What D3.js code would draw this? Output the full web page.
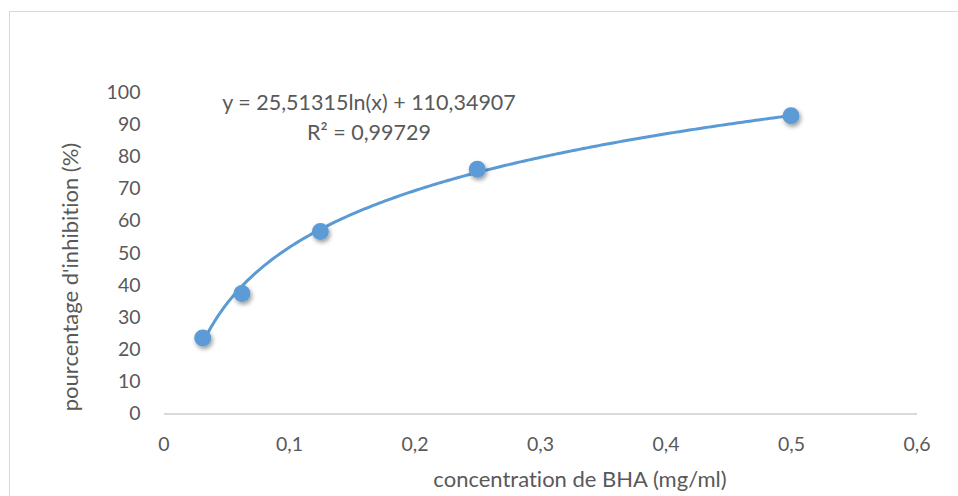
<!DOCTYPE html>
<html>
<head>
<meta charset="utf-8">
<script src="https://cdn.jsdelivr.net/npm/d3@7"></script>
<style>
  html, body { margin: 0; padding: 0; background: #fff; }
  svg { display: block; font-family: Lato, "Open Sans", sans-serif; font-variant-ligatures: none; }
</style>
</head>
<body>
<svg id="chart" width="958" height="496"></svg>
<script>
// ---- data ----
const concentrations = [0.03125, 0.0625, 0.125, 0.25, 0.5];
const inhibition = [23.5, 37.3, 56.6, 76.0, 92.6];
const xTicks = [0, 0.1, 0.2, 0.3, 0.4, 0.5, 0.6];
const yTicks = [0, 10, 20, 30, 40, 50, 60, 70, 80, 90, 100];
const trendCoefA = [25.51315];
const trendCoefB = [110.34907];
const equationLines = ["y = 25,51315ln(x) + 110,34907", "R² = 0,99729"];
const xTitle = "concentration de BHA (mg/ml)";
const yTitle = "pourcentage d'inhibition (%)";

// ---- layout ----
const svg = d3.select("#chart");
const color = "#5B9BD5";
const textColor = "#595959";
const x = d3.scaleLinear().domain([0, 0.6]).range([163.5, 916.5]);
const y = d3.scaleLinear().domain([0, 100]).range([413.5, 92]);
const fmt = d => String(d).replace(".", ",");

// outer frame
svg.append("rect").attr("x", 9.5).attr("y", 11.5).attr("width", 1000).attr("height", 1000)
  .attr("fill", "none").attr("stroke", "#d9d9d9").attr("stroke-width", 1);

// shadow filter
const defs = svg.append("defs");
const f = defs.append("filter").attr("id", "shadow").attr("x", "-50%").attr("y", "-50%").attr("width", "200%").attr("height", "200%");
f.append("feDropShadow").attr("dx", 1.5).attr("dy", 2.5).attr("stdDeviation", 2.2)
  .attr("flood-color", "#000").attr("flood-opacity", 0.4);

// x axis
const xAxis = svg.append("g").attr("transform", `translate(0,${y(0)})`)
  .call(d3.axisBottom(x).tickValues(xTicks).tickFormat(fmt).tickSize(0).tickPadding(24));
xAxis.select(".domain").attr("stroke", "#d9d9d9").attr("stroke-width", 2);
xAxis.selectAll("text").attr("fill", textColor).attr("font-size", 19.5).attr("font-family", "Lato, sans-serif");

// y axis
const yAxis = svg.append("g").attr("transform", `translate(${x(0)},0)`)
  .call(d3.axisLeft(y).tickValues(yTicks).tickFormat(fmt).tickSize(0).tickPadding(23));
yAxis.select(".domain").remove();
yAxis.selectAll("text").attr("fill", textColor).attr("font-size", 19.5).attr("font-family", "Lato, sans-serif");

// axis titles
svg.append("text").attr("x", 580).attr("y", 487).attr("text-anchor", "middle")
  .attr("fill", textColor).attr("font-size", 22).text(xTitle);
svg.append("text").attr("transform", `translate(78,277) rotate(-90)`).attr("text-anchor", "middle")
  .attr("fill", textColor).attr("font-size", 22).text(yTitle);

// trend line
const xs = d3.range(0, 201).map(i => concentrations[0] + (concentrations[concentrations.length - 1] - concentrations[0]) * i / 200);
const trend = xs.map(v => [v, trendCoefA[0] * Math.log(v) + trendCoefB[0]]);
svg.append("path").datum(trend)
  .attr("fill", "none").attr("stroke", color).attr("stroke-width", 3)
  .attr("d", d3.line().x(d => x(d[0])).y(d => y(d[1])));

// points
svg.append("g").selectAll("circle").data(concentrations.map((c, i) => [c, inhibition[i]]))
  .join("circle")
  .attr("cx", d => x(d[0])).attr("cy", d => y(d[1])).attr("r", 8.5)
  .attr("fill", color).attr("filter", "url(#shadow)");

// equation
svg.append("g").selectAll("text").data(equationLines).join("text")
  .attr("x", 369).attr("y", (d, i) => 110 + i * 30).attr("text-anchor", "middle")
  .attr("fill", textColor).attr("font-size", 21.5).text(d => d);
</script>
</body>
</html>
